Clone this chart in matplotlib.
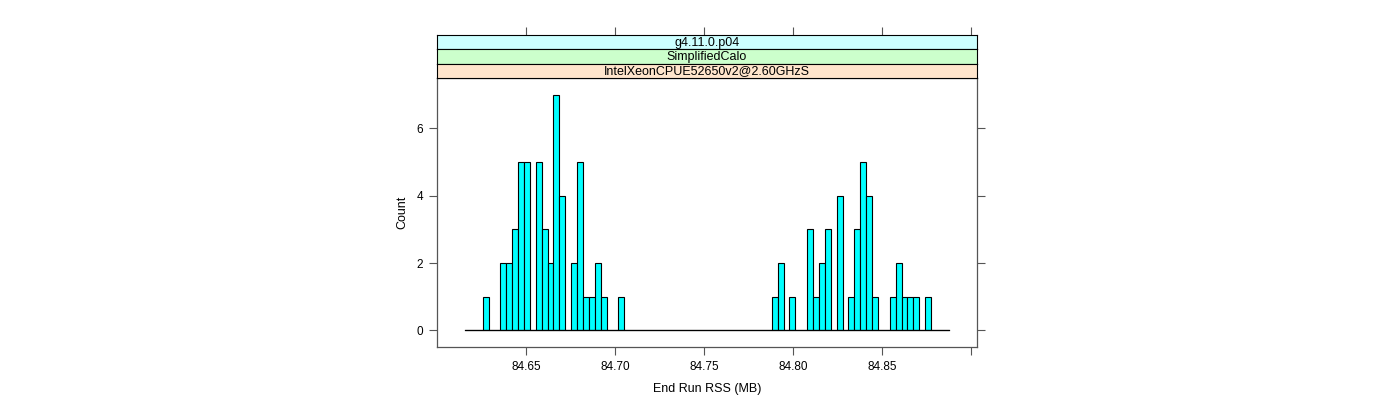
import numpy as np
import matplotlib
matplotlib.use("Agg")
import matplotlib.pyplot as plt

plt.rcParams['font.family'] = ['Liberation Sans', 'DejaVu Sans']

# histogram bins (MB)
bin_start = 84.6157
bin_width = 0.003315
counts = [0, 0, 0, 1, 0, 0, 2, 2, 3, 5, 5, 0, 5, 3, 2, 7, 4, 0, 2, 5,
          1, 1, 2, 1, 0, 0, 1, 0, 0, 0, 0, 0, 0, 0, 0, 0, 0, 0, 0, 0,
          0, 0, 0, 0, 0, 0, 0, 0, 0, 0, 0, 0, 1, 2, 0, 1, 0, 0, 3, 1,
          2, 3, 0, 4, 0, 1, 3, 5, 4, 1, 0, 0, 1, 2, 1, 1, 1, 0, 1, 0,
          0, 0]
strips = ["g4.11.0.p04", "SimplifiedCalo", "IntelXeonCPUE52650v2@2.60GHzS"]
strip_colors = ["#ccffff", "#ccffcc", "#ffe5cc"]
x_ticks = [84.65, 84.70, 84.75, 84.80, 84.85, 84.90]
x_labels = ["84.65", "84.70", "84.75", "84.80", "84.85", ""]
y_ticks = [0, 2, 4, 6]

edges = bin_start + bin_width * np.arange(len(counts) + 1)
xlim = (84.600, 84.9034)
frame_col = "#555555"

fig = plt.figure(figsize=(14, 4), dpi=100)
W, H = 1400, 400
left, right = 437 / W, 977 / W
ax = fig.add_axes([left, 1 - 347 / H, right - left, (347 - 78) / H])

ax.bar(edges[:-1], counts, width=bin_width, align='edge',
       color='#00ffff', edgecolor='black', linewidth=0.8)
ax.plot([edges[0], edges[-1]], [0, 0], color='black', linewidth=0.9)
ax.set_xlim(*xlim)
ax.set_ylim(-0.49, 7.49)

ax.set_xticks(x_ticks)
ax.set_xticklabels(x_labels)
ax.set_yticks(y_ticks)
ax.tick_params(axis='both', direction='out', length=6, width=0.8,
               color=frame_col, labelsize=8.5, pad=4)
ax.tick_params(axis='y', right=True, labelright=False)
for s in ax.spines.values():
    s.set_color(frame_col)
    s.set_linewidth(0.9)
ax.set_xlabel("End Run RSS (MB)", fontsize=9, labelpad=7)
ax.set_ylabel("Count", fontsize=9, labelpad=6)

# strips
bounds = [35, 49.3, 63.6, 78]
for i, (label, col) in enumerate(zip(strips, strip_colors)):
    sax = fig.add_axes([left, 1 - bounds[i + 1] / H, right - left,
                        (bounds[i + 1] - bounds[i]) / H])
    sax.set_facecolor(col)
    sax.set_xlim(*xlim)
    sax.set_ylim(0, 1)
    sax.set_yticks([])
    if i == 0:
        sax.set_xticks(x_ticks)
        sax.tick_params(axis='x', top=True, bottom=False, labeltop=False,
                        labelbottom=False, direction='out', length=6,
                        width=0.8, color=frame_col)
    else:
        sax.set_xticks([])
    for s in sax.spines.values():
        s.set_color("black")
        s.set_linewidth(0.8)
    sax.text(0.5, 0.45, label, transform=sax.transAxes, ha='center',
             va='center', fontsize=9)

fig.savefig("out.png", dpi=100)
